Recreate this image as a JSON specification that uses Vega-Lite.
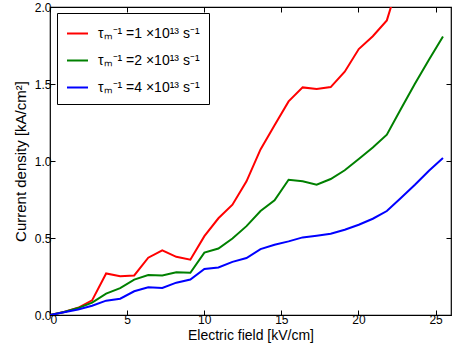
{
  "$schema": "https://vega.github.io/schema/vega-lite/v6.json",
  "width": 401,
  "height": 308,
  "autosize": {"type": "none"},
  "padding": {"left": 50, "top": 7, "right": 6, "bottom": 40},
  "background": "white",
  "config": {
    "view": {"stroke": "black", "strokeWidth": 1.2},
    "font": "Liberation Sans",
    "axis": {
      "domain": false,
      "grid": false,
      "tickColor": "black",
      "tickSize": -5,
      "labelFont": "Liberation Sans",
      "labelFontSize": 12,
      "labelColor": "black",
      "titleFont": "Liberation Sans",
      "titleFontSize": 14,
      "titleFontWeight": "normal",
      "titleColor": "black"
    }
  },
  "data": {
    "values": [
      {"E": 0, "J": 0.0, "s": "r"}, {"E": 0.91, "J": 0.02, "s": "r"}, {"E": 1.82, "J": 0.047, "s": "r"}, {"E": 2.73, "J": 0.095, "s": "r"},
      {"E": 3.64, "J": 0.27, "s": "r"}, {"E": 4.55, "J": 0.252, "s": "r"}, {"E": 5.46, "J": 0.257, "s": "r"}, {"E": 6.37, "J": 0.372, "s": "r"},
      {"E": 7.28, "J": 0.42, "s": "r"}, {"E": 8.19, "J": 0.378, "s": "r"}, {"E": 9.1, "J": 0.359, "s": "r"}, {"E": 10.01, "J": 0.512, "s": "r"},
      {"E": 10.92, "J": 0.628, "s": "r"}, {"E": 11.83, "J": 0.716, "s": "r"}, {"E": 12.74, "J": 0.868, "s": "r"}, {"E": 13.65, "J": 1.075, "s": "r"},
      {"E": 14.56, "J": 1.232, "s": "r"}, {"E": 15.47, "J": 1.387, "s": "r"}, {"E": 16.38, "J": 1.478, "s": "r"}, {"E": 17.29, "J": 1.467, "s": "r"},
      {"E": 18.2, "J": 1.48, "s": "r"}, {"E": 19.11, "J": 1.58, "s": "r"}, {"E": 20.02, "J": 1.727, "s": "r"}, {"E": 20.93, "J": 1.81, "s": "r"},
      {"E": 21.84, "J": 1.913, "s": "r"}, {"E": 22.75, "J": 2.21, "s": "r"},
      {"E": 0, "J": 0.0, "s": "g"}, {"E": 0.91, "J": 0.02, "s": "g"}, {"E": 1.82, "J": 0.045, "s": "g"}, {"E": 2.73, "J": 0.08, "s": "g"},
      {"E": 3.64, "J": 0.139, "s": "g"}, {"E": 4.55, "J": 0.174, "s": "g"}, {"E": 5.46, "J": 0.23, "s": "g"}, {"E": 6.37, "J": 0.26, "s": "g"},
      {"E": 7.28, "J": 0.257, "s": "g"}, {"E": 8.19, "J": 0.278, "s": "g"}, {"E": 9.1, "J": 0.274, "s": "g"}, {"E": 10.01, "J": 0.405, "s": "g"},
      {"E": 10.92, "J": 0.432, "s": "g"}, {"E": 11.83, "J": 0.497, "s": "g"}, {"E": 12.74, "J": 0.577, "s": "g"}, {"E": 13.65, "J": 0.675, "s": "g"},
      {"E": 14.56, "J": 0.745, "s": "g"}, {"E": 15.47, "J": 0.878, "s": "g"}, {"E": 16.38, "J": 0.868, "s": "g"}, {"E": 17.29, "J": 0.846, "s": "g"},
      {"E": 18.2, "J": 0.883, "s": "g"}, {"E": 19.11, "J": 0.94, "s": "g"}, {"E": 20.02, "J": 1.013, "s": "g"}, {"E": 20.93, "J": 1.088, "s": "g"},
      {"E": 21.84, "J": 1.171, "s": "g"}, {"E": 22.75, "J": 1.338, "s": "g"}, {"E": 23.66, "J": 1.502, "s": "g"}, {"E": 24.57, "J": 1.658, "s": "g"},
      {"E": 25.48, "J": 1.809, "s": "g"},
      {"E": 0, "J": 0.0, "s": "b"}, {"E": 0.91, "J": 0.018, "s": "b"}, {"E": 1.82, "J": 0.036, "s": "b"}, {"E": 2.73, "J": 0.06, "s": "b"},
      {"E": 3.64, "J": 0.093, "s": "b"}, {"E": 4.55, "J": 0.106, "s": "b"}, {"E": 5.46, "J": 0.154, "s": "b"}, {"E": 6.37, "J": 0.18, "s": "b"},
      {"E": 7.28, "J": 0.176, "s": "b"}, {"E": 8.19, "J": 0.21, "s": "b"}, {"E": 9.1, "J": 0.23, "s": "b"}, {"E": 10.01, "J": 0.299, "s": "b"},
      {"E": 10.92, "J": 0.309, "s": "b"}, {"E": 11.83, "J": 0.345, "s": "b"}, {"E": 12.74, "J": 0.37, "s": "b"}, {"E": 13.65, "J": 0.428, "s": "b"},
      {"E": 14.56, "J": 0.456, "s": "b"}, {"E": 15.47, "J": 0.478, "s": "b"}, {"E": 16.38, "J": 0.504, "s": "b"}, {"E": 17.29, "J": 0.515, "s": "b"},
      {"E": 18.2, "J": 0.528, "s": "b"}, {"E": 19.11, "J": 0.554, "s": "b"}, {"E": 20.02, "J": 0.586, "s": "b"}, {"E": 20.93, "J": 0.625, "s": "b"},
      {"E": 21.84, "J": 0.675, "s": "b"}, {"E": 22.75, "J": 0.76, "s": "b"}, {"E": 23.66, "J": 0.846, "s": "b"}, {"E": 24.57, "J": 0.937, "s": "b"},
      {"E": 25.48, "J": 1.019, "s": "b"}
    ]
  },
  "resolve": {"axis": {"x": "independent", "y": "independent"}},
  "layer": [
    {
      "mark": {"type": "line", "strokeWidth": 2, "clip": true},
      "encoding": {
        "x": {"field": "E", "type": "quantitative", "scale": {"domain": [0, 26], "nice": false},
              "axis": {"values": [0, 5, 10, 15, 20, 25], "title": "Electric field [kV/cm]", "labelPadding": 4, "titlePadding": 3}},
        "y": {"field": "J", "type": "quantitative", "scale": {"domain": [0, 2], "nice": false},
              "axis": {"values": [0, 0.5, 1, 1.5, 2], "format": ".1f", "title": "Current density [kA/cm²]", "labelPadding": 4, "titlePadding": 6, "titleFontSize": 15}},
        "color": {
          "field": "s", "type": "nominal",
          "scale": {"domain": ["r", "g", "b"], "range": ["#ff0000", "#008000", "#0000ff"]},
          "legend": {
            "title": null,
            "orient": "none",
            "legendX": 7,
            "legendY": 6,
            "labelExpr": "datum.value == 'r' ? 'τₘ⁻¹ =1 ×10¹³ s⁻¹' : datum.value == 'g' ? 'τₘ⁻¹ =2 ×10¹³ s⁻¹' : 'τₘ⁻¹ =4 ×10¹³ s⁻¹'",
            "symbolType": "stroke",
            "symbolStrokeWidth": 2,
            "symbolSize": 441,
            "labelFont": "Liberation Sans",
            "labelFontSize": 14,
            "labelColor": "black",
            "labelOffset": 9,
            "rowPadding": 8,
            "padding": 9,
            "strokeColor": "black",
            "fillColor": "white",
            "labelLimit": 200
          }
        }
      }
    },
    {
      "mark": {"type": "line", "opacity": 0},
      "encoding": {
        "x": {"field": "E", "type": "quantitative", "scale": {"domain": [0, 26], "nice": false},
              "axis": {"orient": "top", "values": [0, 5, 10, 15, 20, 25], "labels": false, "title": null}},
        "y": {"field": "J", "type": "quantitative", "scale": {"domain": [0, 2], "nice": false},
              "axis": {"orient": "right", "values": [0, 0.5, 1, 1.5, 2], "labels": false, "title": null}},
        "detail": {"field": "s"}
      }
    }
  ]
}
